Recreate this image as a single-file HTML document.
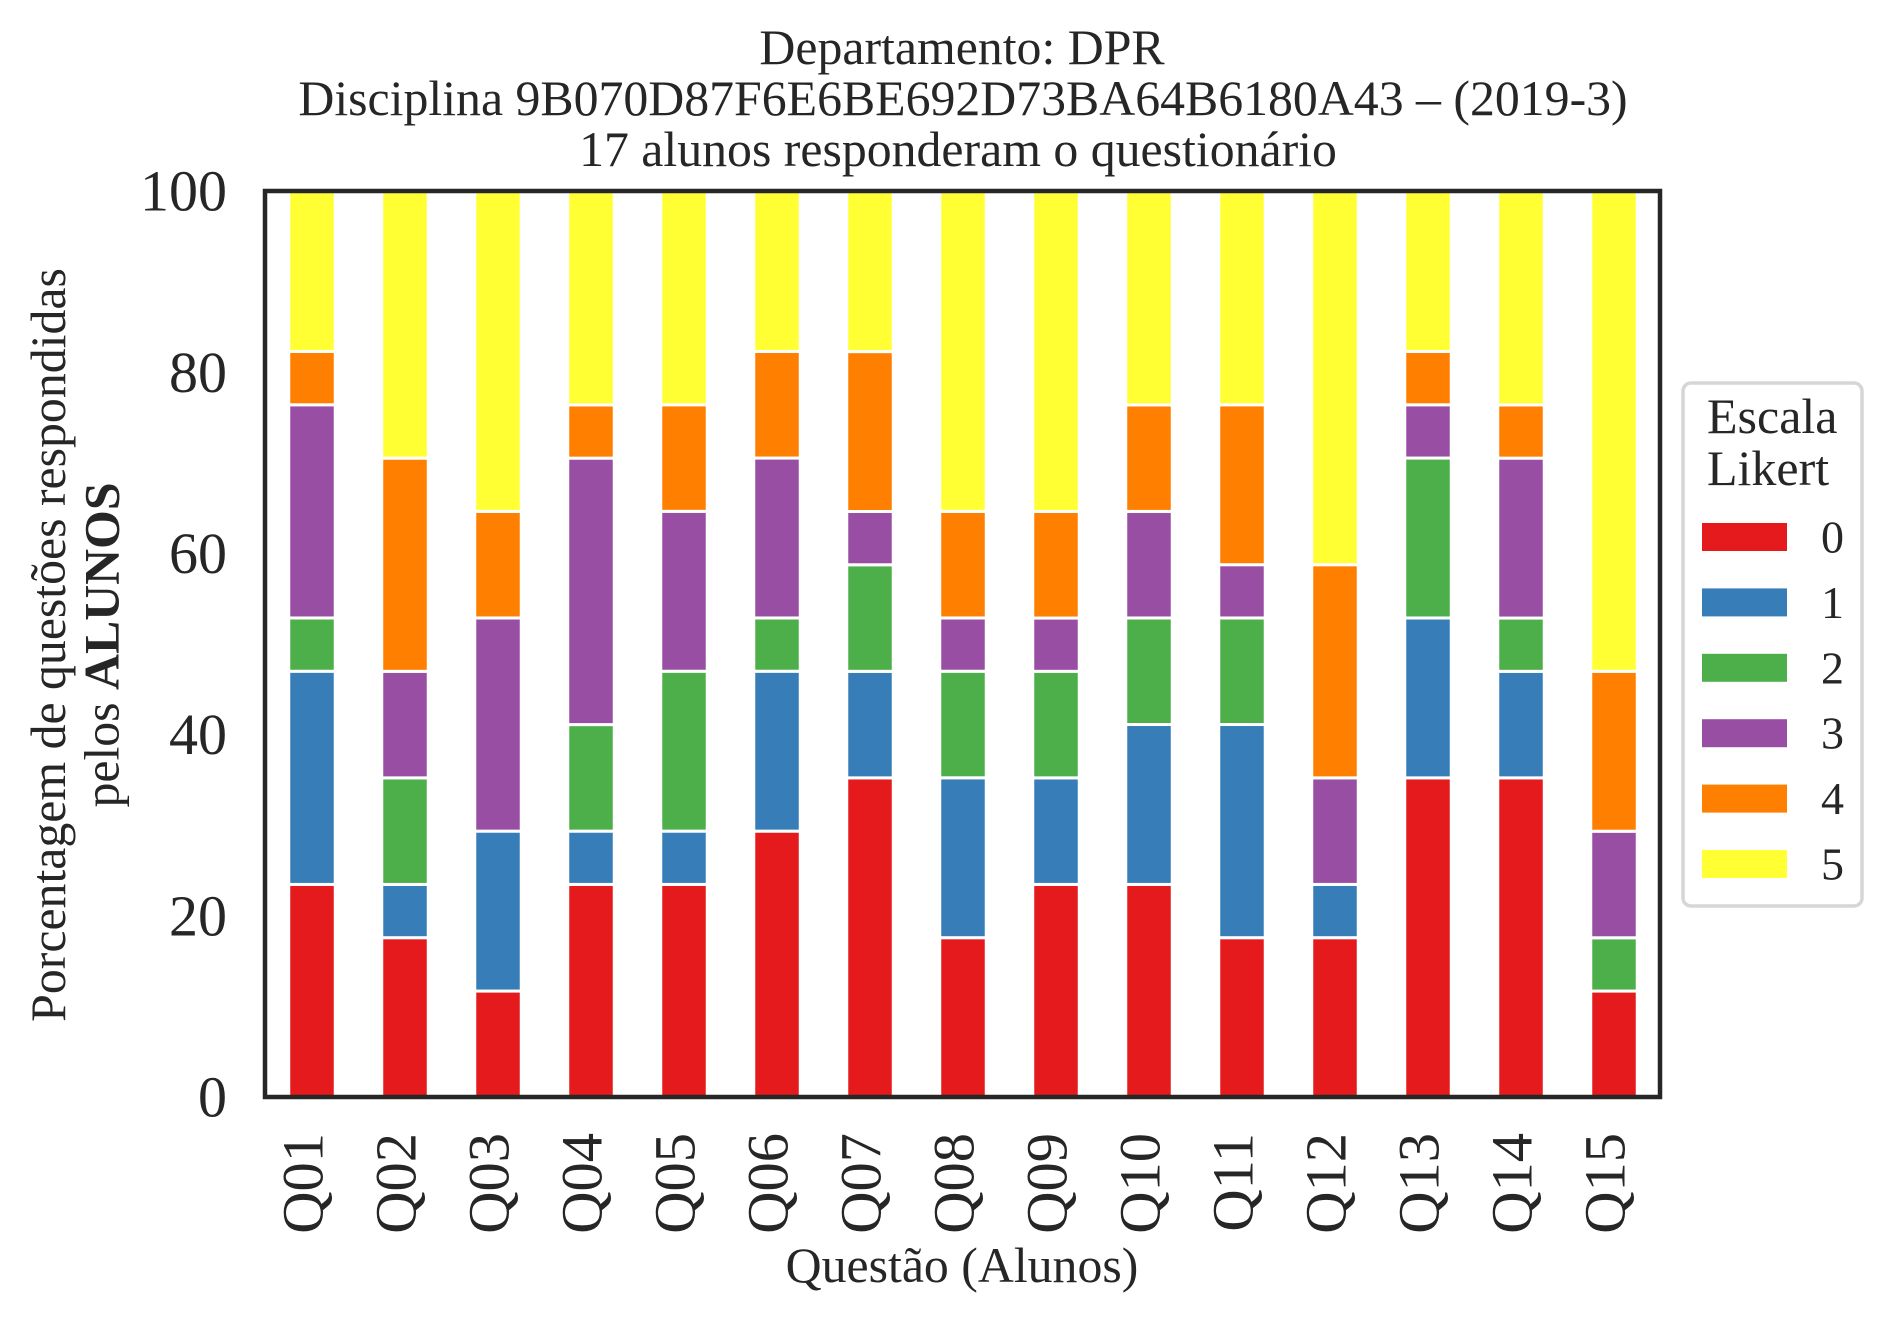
<!DOCTYPE html>
<html lang="pt">
<head>
<meta charset="utf-8">
<title>Departamento: DPR</title>
<style>
  html, body { margin: 0; padding: 0; background: #ffffff; }
  svg { display: block; }
  text { font-family: "Liberation Serif", "Times New Roman", serif; fill: #262626; }
</style>
</head>
<body>
<svg id="chart" xmlns="http://www.w3.org/2000/svg" width="1892" height="1323" viewBox="0 0 1892 1323">
  <rect x="0" y="0" width="1892" height="1323" fill="#ffffff"/>
  <g font-size="49.8" text-anchor="middle">
    <text x="962" y="64">Departamento: DPR</text>
    <text x="963" y="115">Disciplina 9B070D87F6E6BE692D73BA64B6180A43 – (2019-3)</text>
    <text x="958" y="166">17 alunos responderam o questionário</text>
  </g>
  <g id="bars"></g>
  <rect x="265" y="191" width="1395" height="906" fill="none" stroke="#262626" stroke-width="4.5"/>
  <g id="y-ticks"></g>
  <g id="x-ticks"></g>
  <g font-size="49.8" text-anchor="middle">
    <text transform="translate(65 645) rotate(-90)">Porcentagem de questões respondidas</text>
    <text transform="translate(118.5 645) rotate(-90)">pelos <tspan font-weight="bold">ALUNOS</tspan></text>
  </g>
  <text x="962" y="1282" font-size="49.8" text-anchor="middle">Questão (Alunos)</text>
  <g>
    <rect x="1683" y="383" width="179" height="523" rx="8" ry="8" fill="#ffffff" stroke="#d6d6d6" stroke-width="3.5"/>
    <text x="1707" y="433" font-size="50">Escala</text>
    <text x="1707" y="485" font-size="50">Likert</text>
    <g id="legend-entries"></g>
  </g>
</svg>
<script>
const categories = ["Q01","Q02","Q03","Q04","Q05","Q06","Q07","Q08","Q09","Q10","Q11","Q12","Q13","Q14","Q15"];
const seriesNames = ["0","1","2","3","4","5"];
const seriesColors = ["#e41a1c","#377eb8","#4daf4a","#984ea3","#ff7f00","#ffff33"];
const likert0 = [23.53,17.65,11.76,23.53,23.53,29.41,35.29,17.65,23.53,23.53,17.65,17.65,35.29,35.29,11.76];
const likert1 = [23.53,5.88,17.65,5.88,5.88,17.65,11.76,17.65,11.76,17.65,23.53,5.88,17.65,11.76,0];
const likert2 = [5.88,11.76,0,11.76,17.65,5.88,11.76,11.76,11.76,11.76,11.76,0,17.65,5.88,5.88];
const likert3 = [23.53,11.76,23.53,29.41,17.65,17.65,5.88,5.88,5.88,11.76,5.88,11.76,5.88,17.65,11.76];
const likert4 = [5.88,23.53,11.76,5.88,11.76,11.76,17.65,11.76,11.76,11.76,17.65,23.53,5.88,5.88,17.65];
const likert5 = [17.65,29.41,35.29,23.53,23.53,17.65,17.65,35.29,35.29,23.53,23.53,41.18,17.65,23.53,52.94];
const yTickLabels = ["0","20","40","60","80","100"];
const allSeries = [likert0, likert1, likert2, likert3, likert4, likert5];

const SVG_NS = "http://www.w3.org/2000/svg";
const plot = { left: 265.5, right: 1660.5, top: 191.6, bottom: 1097.6 };
const yMax = 100;
const barFraction = 0.5;
const step = (plot.right - plot.left) / categories.length;
function xCenter(i) { return plot.left + step * (i + 0.5); }
function yPos(v) { return plot.bottom - (v / yMax) * (plot.bottom - plot.top); }

const barsGroup = document.getElementById("bars");
categories.forEach(function (cat, i) {
  let cum = 0;
  allSeries.forEach(function (series, s) {
    const v = series[i];
    const r = document.createElementNS(SVG_NS, "rect");
    
    
    const w = step * barFraction;
    r.setAttribute("x", xCenter(i) - w / 2);
    r.setAttribute("y", yPos(cum + v));
    r.setAttribute("width", w);
    r.setAttribute("height", Math.max(0, yPos(cum) - yPos(cum + v)));
    r.setAttribute("fill", seriesColors[s]);
    r.setAttribute("stroke", "#ffffff");
    r.setAttribute("stroke-width", "3");
    barsGroup.appendChild(r);
    cum += v;
  });
});

const yTicksGroup = document.getElementById("y-ticks");
yTickLabels.forEach(function (label) {
  const t = document.createElementNS(SVG_NS, "text");
  
  
  t.setAttribute("x", 227);
  t.setAttribute("y", yPos(Number(label)) + 19);
  t.setAttribute("font-size", "58");
  t.setAttribute("text-anchor", "end");
  t.textContent = label;
  yTicksGroup.appendChild(t);
});

const xTicksGroup = document.getElementById("x-ticks");
categories.forEach(function (cat, i) {
  const t = document.createElementNS(SVG_NS, "text");
  
  
  const bx = xCenter(i) + 10.5;
  t.setAttribute("transform", "translate(" + bx + " 1133) rotate(-90)");
  t.setAttribute("font-size", "58.5");
  t.setAttribute("text-anchor", "end");
  t.textContent = cat;
  xTicksGroup.appendChild(t);
});

const legendGroup = document.getElementById("legend-entries");
seriesNames.forEach(function (name, s) {
  const top = 523 + s * 65.4;
  const r = document.createElementNS(SVG_NS, "rect");
  
  
  r.setAttribute("x", 1702);
  r.setAttribute("y", top);
  r.setAttribute("width", 85);
  r.setAttribute("height", 28);
  r.setAttribute("fill", seriesColors[s]);
  legendGroup.appendChild(r);
  const t = document.createElementNS(SVG_NS, "text");
  
  
  t.setAttribute("x", 1821);
  t.setAttribute("y", top + 29.5);
  t.setAttribute("font-size", "46");
  t.textContent = name;
  legendGroup.appendChild(t);
});
</script>
</body>
</html>
